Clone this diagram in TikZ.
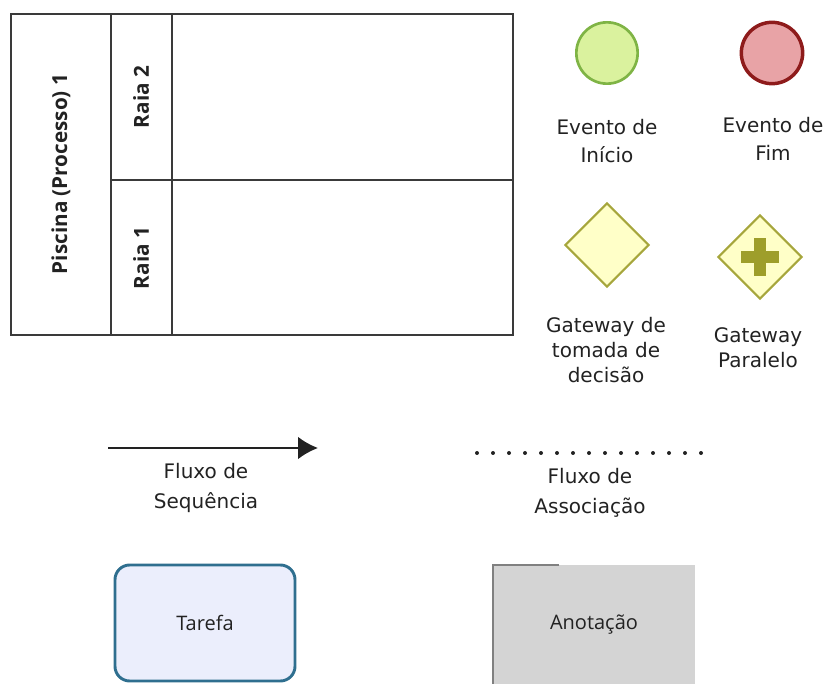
\documentclass[tikz,border=0pt]{standalone}
\usepackage{fontspec}
\setmainfont{DejaVu Sans}
\newfontfamily\uifont{Open Sans}
\usepackage{xcolor}
\usetikzlibrary{arrows.meta,shapes.geometric,positioning}
\definecolor{Ink}{HTML}{222222}
\definecolor{PoolLine}{HTML}{3A3A3A}
\definecolor{StartFill}{HTML}{DAF29E}
\definecolor{StartLine}{HTML}{7FB445}
\definecolor{EndFill}{HTML}{E8A3A6}
\definecolor{EndLine}{HTML}{8E1B1B}
\definecolor{GateFill}{HTML}{FFFFC8}
\definecolor{GateLine}{HTML}{A6A63C}
\definecolor{GatePlus}{HTML}{9E9E2A}
\definecolor{TaskFill}{HTML}{EBEEFC}
\definecolor{TaskLine}{HTML}{2F6F8F}
\definecolor{NoteFill}{HTML}{D4D4D4}
\definecolor{NoteLine}{HTML}{808080}

\begin{document}
\begin{tikzpicture}[x=0.75pt,y=-0.75pt,>=Latex,
  poolline/.style={PoolLine,line width=1.1pt},
  pooltext/.style={Ink,font=\uifont\bfseries\fontsize{15.5}{18}\selectfont,rotate=90},
  legend/.style={Ink,align=center,font=\fontsize{15}{#1}\selectfont},
  legend/.default=21,
  startev/.style={circle,draw=StartLine,fill=StartFill,line width=2pt,minimum size=46pt,inner sep=0pt},
  endev/.style={circle,draw=EndLine,fill=EndFill,line width=2.6pt,minimum size=46pt,inner sep=0pt},
  gateway/.style={diamond,draw=GateLine,fill=GateFill,line width=1.6pt,minimum size=63pt,inner sep=0pt},
  taskbox/.style={rectangle,rounded corners=11pt,draw=TaskLine,fill=TaskFill,line width=2.2pt,
    minimum width=135pt,minimum height=87pt,font=\uifont\fontsize{15}{18}\selectfont,text=Ink},
  annotbox/.style={rectangle,fill=NoteFill,minimum width=151.5pt,minimum height=90pt,
    font=\uifont\fontsize{15}{18}\selectfont,text=Ink},
  seqflow/.style={Ink,line width=1.5pt,-{Latex[length=15pt,width=17pt]}},
  assocflow/.style={Ink,line width=3pt,line cap=round,dash pattern=on 0pt off 12pt}]
  \useasboundingbox (0,0) rectangle (829,684);

  % piscina com duas raias
  \draw[poolline] (11,14) rectangle (513,335);
  \draw[poolline] (111,14) -- (111,335);
  \draw[poolline] (172,14) -- (172,335);
  \draw[poolline] (111,180) -- (513,180);
  \node[pooltext] (piscina) at (61,174) {Piscina (Processo) 1};
  \node[pooltext] (raia2) at (141,97) {Raia 2};
  \node[pooltext] (raia1) at (141,258) {Raia 1};

  % eventos
  \node[startev] (inicio) at (607,53) {};
  \node[endev] (fim) at (772,53) {};
  \node[legend] (inicioTxt) at (607,141) {Evento de\\Início};
  \node[legend] (fimTxt) at (773,139) {Evento de\\Fim};

  % gateways
  \node[gateway] (decisao) at (607,245) {};
  \node[gateway] (paralelo) at (760,257) {};
  \fill[GatePlus] ([xshift=-14pt,yshift=-4.5pt]paralelo.center) rectangle ([xshift=14pt,yshift=4.5pt]paralelo.center);
  \fill[GatePlus] ([xshift=-4.5pt,yshift=-14pt]paralelo.center) rectangle ([xshift=4.5pt,yshift=14pt]paralelo.center);
  \node[legend=18.75] (decisaoTxt) at (606,350) {Gateway de\\tomada de\\decisão};
  \node[legend=18.75] (paraleloTxt) at (758,348) {Gateway\\Paralelo};

  % fluxos
  \coordinate (seqA) at (108,448);
  \coordinate (seqB) at (318,448);
  \draw[seqflow] (seqA) -- (seqB);
  \node[legend=22.5] (seqTxt) at (206,488) {Fluxo de\\Sequência};
  \coordinate (assA) at (477,453);
  \coordinate (assB) at (701,453);
  \draw[assocflow] (assA) -- (assB);
  \node[legend=22.5] (assTxt) at (590,493) {Fluxo de\\Associação};

  % tarefa e anotacao
  \node[taskbox] (tarefa) at (205,623) {Tarefa};
  \node[annotbox] (anotacao) at (594,625) {Anotação};
  \draw[NoteLine,line width=1.2pt] ([xshift=50pt]anotacao.north west) -- (anotacao.north west) -- (anotacao.south west);
\end{tikzpicture}
\end{document}
